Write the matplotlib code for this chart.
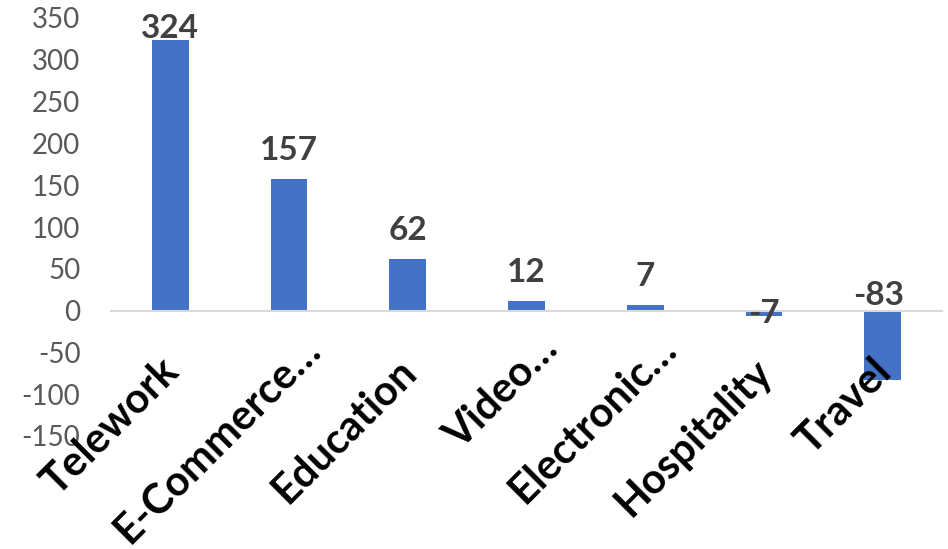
import matplotlib
matplotlib.use("Agg")
import matplotlib.pyplot as plt
from matplotlib.transforms import offset_copy

categories = ["Telework", "E-Commerce…", "Education", "Video…", "Electronic…", "Hospitality", "Travel"]
values = [324, 157, 62, 12, 7, -7, -83]
yticks = [-150, -100, -50, 0, 50, 100, 150, 200, 250, 300, 350]

plt.rcParams['font.family'] = ['Lato', 'DejaVu Sans']

W, H = 948, 549
fig = plt.figure(figsize=(W / 100, H / 100), dpi=100)
ax = fig.add_axes([111/W, 1-436/H, 831/W, 418/H])

x = list(range(len(categories)))
ax.bar(x, values, width=0.31, color="#4472C4", zorder=1)

ax.set_xlim(-0.5, len(categories)-0.5)
ax.set_ylim(-150, 350)
ax.set_yticks(yticks)
ax.set_yticklabels([str(t) for t in yticks], fontsize=20, color="#595959")
ax.tick_params(axis='y', length=0, pad=22)

for s in ['top', 'right', 'left']:
    ax.spines[s].set_visible(False)
ax.spines['bottom'].set_position(('data', 0))
ax.spines['bottom'].set_color('#d9d9d9')
ax.spines['bottom'].set_linewidth(1.5)
ax.set_xticks([])

# category labels, rotated 45 degrees, anchored at end of baseline below the zero line
for i, lab in enumerate(categories):
    dx, dy = 7.9, -45.4
    if lab.endswith("…"):
        dx += 16.0
        dy += 16.0
    tr = offset_copy(ax.transData, fig=fig, x=dx, y=dy, units='points')
    ax.text(i, 0, lab, transform=tr, rotation=45, rotation_mode='anchor',
            ha='right', va='baseline', fontsize=30, fontweight='bold',
            color='black', zorder=5, clip_on=False)

lab_kw = dict(ha='center', fontsize=24, fontweight='bold', color='#404040', zorder=5)
for i, v in enumerate(values):
    if v >= 0:
        # gap above bar, but keep label inside the figure
        bar_top_px = ax.transData.transform((i, v))[1]      # from bottom
        fig_top_px = H
        gap_px = 19
        max_baseline = fig_top_px - 38
        base_px = min(bar_top_px + gap_px, max_baseline)
        ax.annotate(str(v), (i, v), xytext=(0, (base_px - bar_top_px) * 0.72),
                    textcoords='offset points', va='baseline', **lab_kw)
    elif v > -20:
        ax.annotate(str(v), (i, v / 2), xytext=(0, 0), textcoords='offset points',
                    va='center', **lab_kw)
    else:
        ax.annotate(str(v), (i, 0), xytext=(-3, 4), textcoords='offset points',
                    va='baseline', **lab_kw)

fig.savefig("out.png", dpi=100)
